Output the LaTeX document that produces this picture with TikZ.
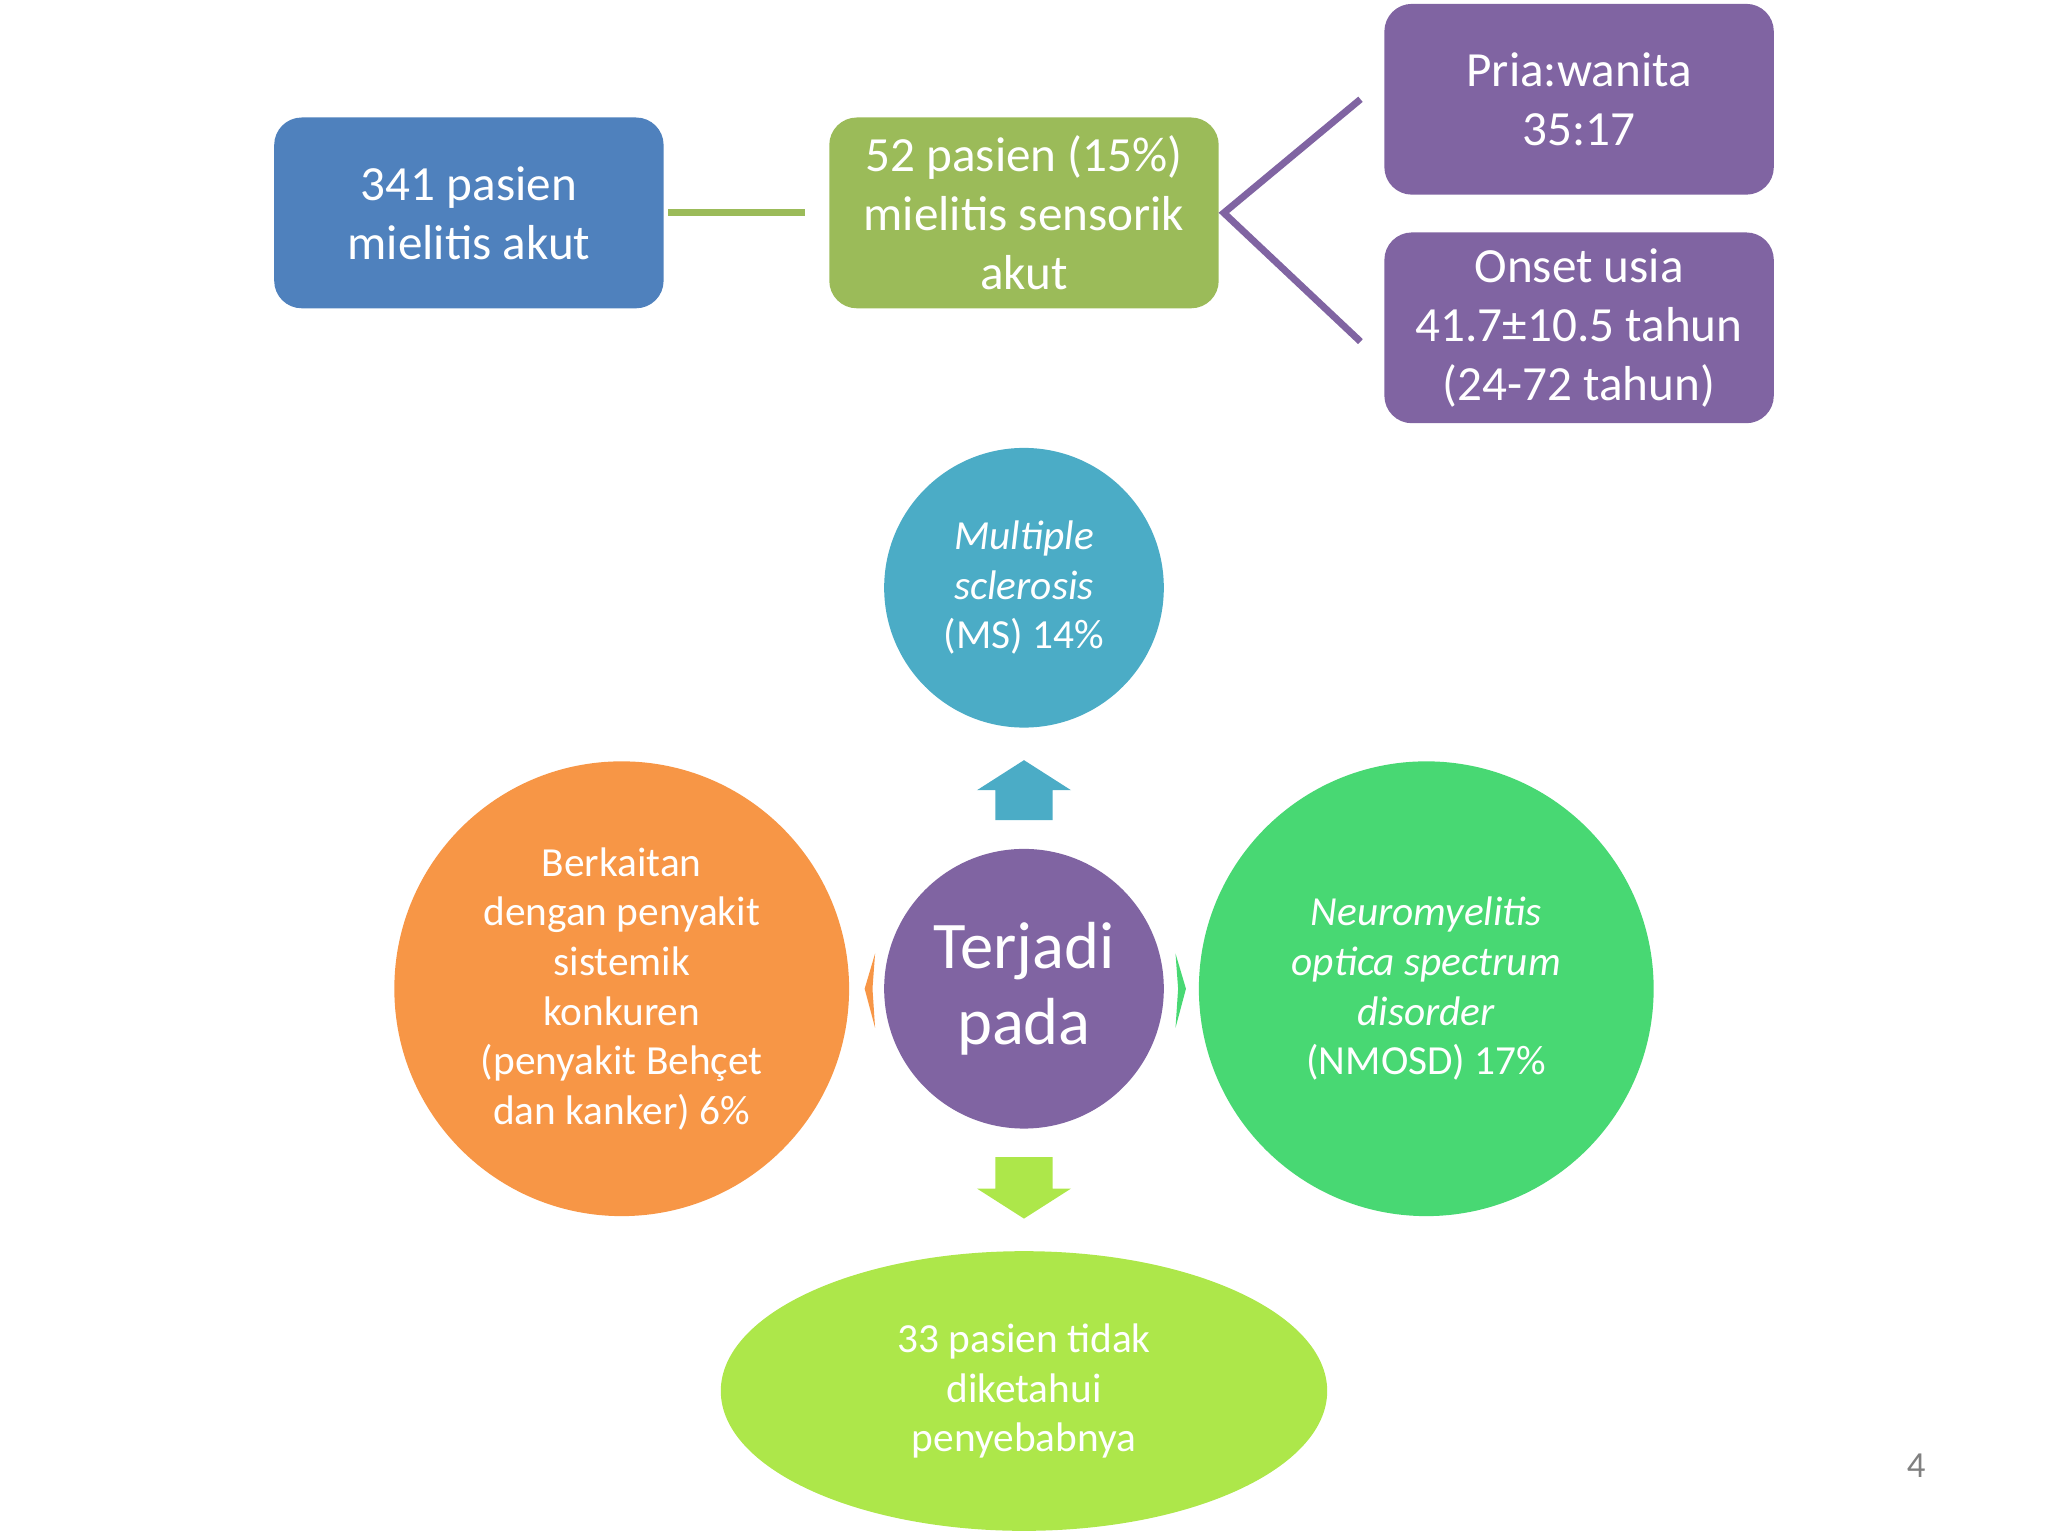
\documentclass[tikz,border=0pt]{standalone}
\usepackage{fontspec}
\setmainfont{Carlito}
\usetikzlibrary{shapes.geometric}
\definecolor{cblue}{HTML}{4F81BD}
\definecolor{cgreen}{HTML}{9BBB59}
\definecolor{cpurp}{HTML}{8064A2}
\definecolor{ccyan}{HTML}{4BACC6}
\definecolor{corange}{HTML}{F79646}
\definecolor{cmint}{HTML}{48D873}
\definecolor{clime}{HTML}{ADE74A}
\begin{document}
\begin{tikzpicture}[x=0.01cm,y=-0.01cm,
 box/.style={rounded corners=6pt,text=white,align=center,inner sep=0pt,minimum width=2.98cm,minimum height=1.46cm,font=\fontsize{10.7}{12.8}\selectfont},
 circ/.style={circle,text=white,align=center,inner sep=0pt,font=\fontsize{9}{10.8}\selectfont}]
\useasboundingbox (0,0) rectangle (1568,1176);
\node[box,fill=cblue] (b1) at (359,163) {341 pasien\\mielitis akut};
\node[box,fill=cgreen] (b2) at (784,163) {52 pasien (15\%)\\mielitis sensorik\\akut};
\node[box,fill=cpurp] (b3) at (1209,76) {Pria:wanita\\35:17};
\node[box,fill=cpurp] (b4) at (1209,251) {Onset usia\\41.7±10.5 tahun\\(24-72 tahun)};
\draw[cgreen,line width=1.5pt] (b1.east)++(3,0) -- ([xshift=-5]b2.west);
\coordinate (j) at (937,163);
\draw[cpurp,line width=1.5pt] ([xshift=-5]b3.west) -- (j) -- ([xshift=-5,yshift=-3]b4.west);
\node[circ,fill=ccyan,minimum size=2.14cm] (ms) at (784,450) {\textit{Multiple}\\\textit{sclerosis}\\(MS) 14\%};
\node[circ,fill=cpurp,minimum size=2.14cm,font=\fontsize{14.5}{16.5}\selectfont] (c) at (784,757) {Terjadi\\pada};
\node[circ,fill=corange,minimum size=3.48cm] (l) at (476,757) {Berkaitan\\dengan penyakit\\sistemik\\konkuren\\(penyakit Behçet\\dan kanker) 6\%};
\node[circ,fill=cmint,minimum size=3.48cm] (r) at (1092,757) {\textit{Neuromyelitis}\\\textit{optica spectrum}\\\textit{disorder}\\(NMOSD) 17\%};
\node[ellipse,fill=clime,text=white,align=center,minimum width=4.64cm,minimum height=2.14cm,inner sep=0pt,font=\fontsize{9}{10.8}\selectfont] (e) at (784,1065) {33 pasien tidak\\diketahui\\penyebabnya};
\fill[ccyan] (748,605) -- (784,582) -- (820,605) -- (806,605) -- (806,628) -- (762,628) -- (762,605) -- cycle;
\fill[clime] (748,910) -- (784,933) -- (820,910) -- (806,910) -- (806,886) -- (762,886) -- (762,910) -- cycle;
\fill[corange] (670,730) -- (662,757) -- (670,787) -- (668,757) -- cycle;
\fill[cmint] (900,730) -- (908,757) -- (900,787) -- (902,757) -- cycle;
\node[text=gray,font=\fontsize{8}{9}\selectfont] (pn) at (1467,1122) {4};
\end{tikzpicture}
\end{document}
